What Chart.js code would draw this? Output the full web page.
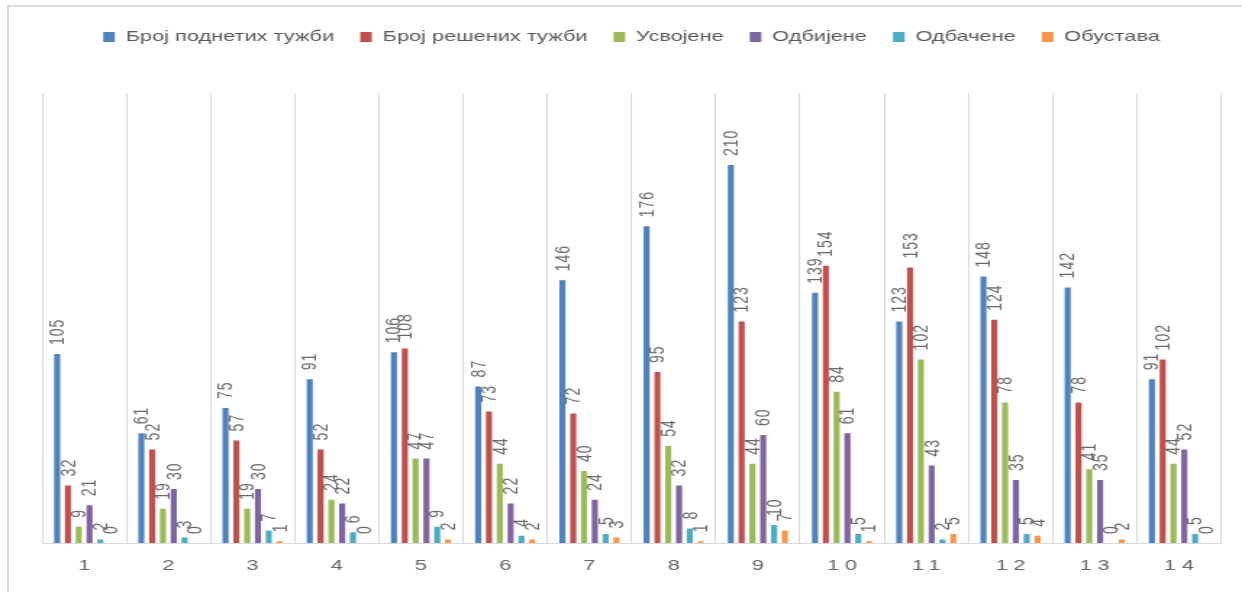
<!DOCTYPE html>
<html>
<head>
<meta charset="utf-8">
<script src="https://cdn.jsdelivr.net/npm/chart.js@4.4.1/dist/chart.umd.min.js"></script>
<style>
  html, body { margin: 0; padding: 0; background: #ffffff; overflow: hidden; width: 1242px; height: 592px; }
  #frame { position: absolute; left: 7px; top: 5px; width: 1400px; height: 700px;
           border-top: 2px solid #d9d9d9; border-left: 2px solid #d9d9d9; }
  #c { position: absolute; left: 0; top: 0; }
</style>
</head>
<body>
<div id="frame"></div>
<canvas id="c" width="857" height="592" style="width:1242px;height:592px;"></canvas>
<script>
const categories = ['1','2','3','4','5','6','7','8','9','10','11','12','13','14'];
const seriesNames = ['Број поднетих тужби','Број решених тужби','Усвојене','Одбијене','Одбачене','Обустава'];
const filed     = [105, 61, 75, 91, 106, 87, 146, 176, 210, 139, 123, 148, 142, 91];
const resolved  = [32, 52, 57, 52, 108, 73, 72, 95, 123, 154, 153, 124, 78, 102];
const accepted  = [9, 19, 19, 24, 47, 44, 40, 54, 44, 84, 102, 78, 41, 44];
const rejected  = [21, 30, 30, 22, 47, 22, 24, 32, 60, 61, 43, 35, 35, 52];
const dismissed = [2, 3, 7, 6, 9, 4, 5, 8, 10, 5, 2, 5, 0, 5];
const suspended = [0, 0, 1, 0, 2, 2, 3, 1, 7, 1, 5, 4, 2, 0];
const colors = ['#4f81bd','#c0504d','#9bbb59','#8064a2','#4bacc6','#f79646'];
const seriesValues = [filed, resolved, accepted, rejected, dismissed, suspended];

const FONT = "'Liberation Sans', Arial, sans-serif";
Chart.defaults.font.family = FONT;

const valueLabels = {
  id: 'valueLabels',
  afterDatasetsDraw(chart) {
    const ctx = chart.ctx;
    ctx.save();
    ctx.fillStyle = '#6a6a6a';
    ctx.font = '14px ' + FONT;
    ctx.letterSpacing = '1px';
    chart.data.datasets.forEach((ds, di) => {
      const meta = chart.getDatasetMeta(di);
      meta.data.forEach((bar, i) => {
        ctx.save();
        ctx.translate(bar.x + 0.8, bar.y - 9);
        ctx.rotate(-Math.PI / 2);
        ctx.textAlign = 'left';
        ctx.textBaseline = 'middle';
        ctx.fillText(String(ds.data[i]), 0, 0);
        ctx.restore();
      });
    });
    ctx.restore();
  },
  afterDraw(chart) {
    const ctx = chart.ctx;
    const xs = chart.scales.x;
    ctx.save();
    ctx.fillStyle = '#666666';
    ctx.font = '15px ' + FONT;
    ctx.letterSpacing = '4px';
    ctx.textAlign = 'center';
    ctx.textBaseline = 'middle';
    categories.forEach((c, i) => {
      ctx.fillText(c, xs.getPixelForTick(i) + 2, 566);
    });
    ctx.restore();
  }
};

new Chart(document.getElementById('c'), {
  type: 'bar',
  data: {
    labels: categories,
    datasets: seriesNames.map((n, k) => ({
      label: n,
      data: seriesValues[k],
      backgroundColor: colors[k],
      borderWidth: 0,
      categoryPercentage: 0.77,
      barPercentage: 0.56
    }))
  },
  options: {
    responsive: false,
    animation: false,
    devicePixelRatio: 1,
    layout: { padding: { left: 29, right: 14.5, top: 11.5, bottom: 49 } },
    plugins: {
      legend: {
        position: 'top',
        labels: {
          boxWidth: 8, boxHeight: 10, padding: 18,
          color: '#595959',
          font: { size: 15, family: FONT }
        }
      },
      title: {
        display: true, text: '', weight: 500,
        padding: 0, font: { size: 38.5, lineHeight: 1 }
      },
      tooltip: { enabled: false }
    },
    scales: {
      x: {
        grid: { color: '#d9d9d9', lineWidth: 1, drawTicks: false, offset: true },
        border: { color: '#d9d9d9', width: 1 },
        ticks: { display: false }
      },
      y: {
        display: false,
        min: 0, max: 250
      }
    }
  },
  plugins: [valueLabels]
});
</script>
</body>
</html>
